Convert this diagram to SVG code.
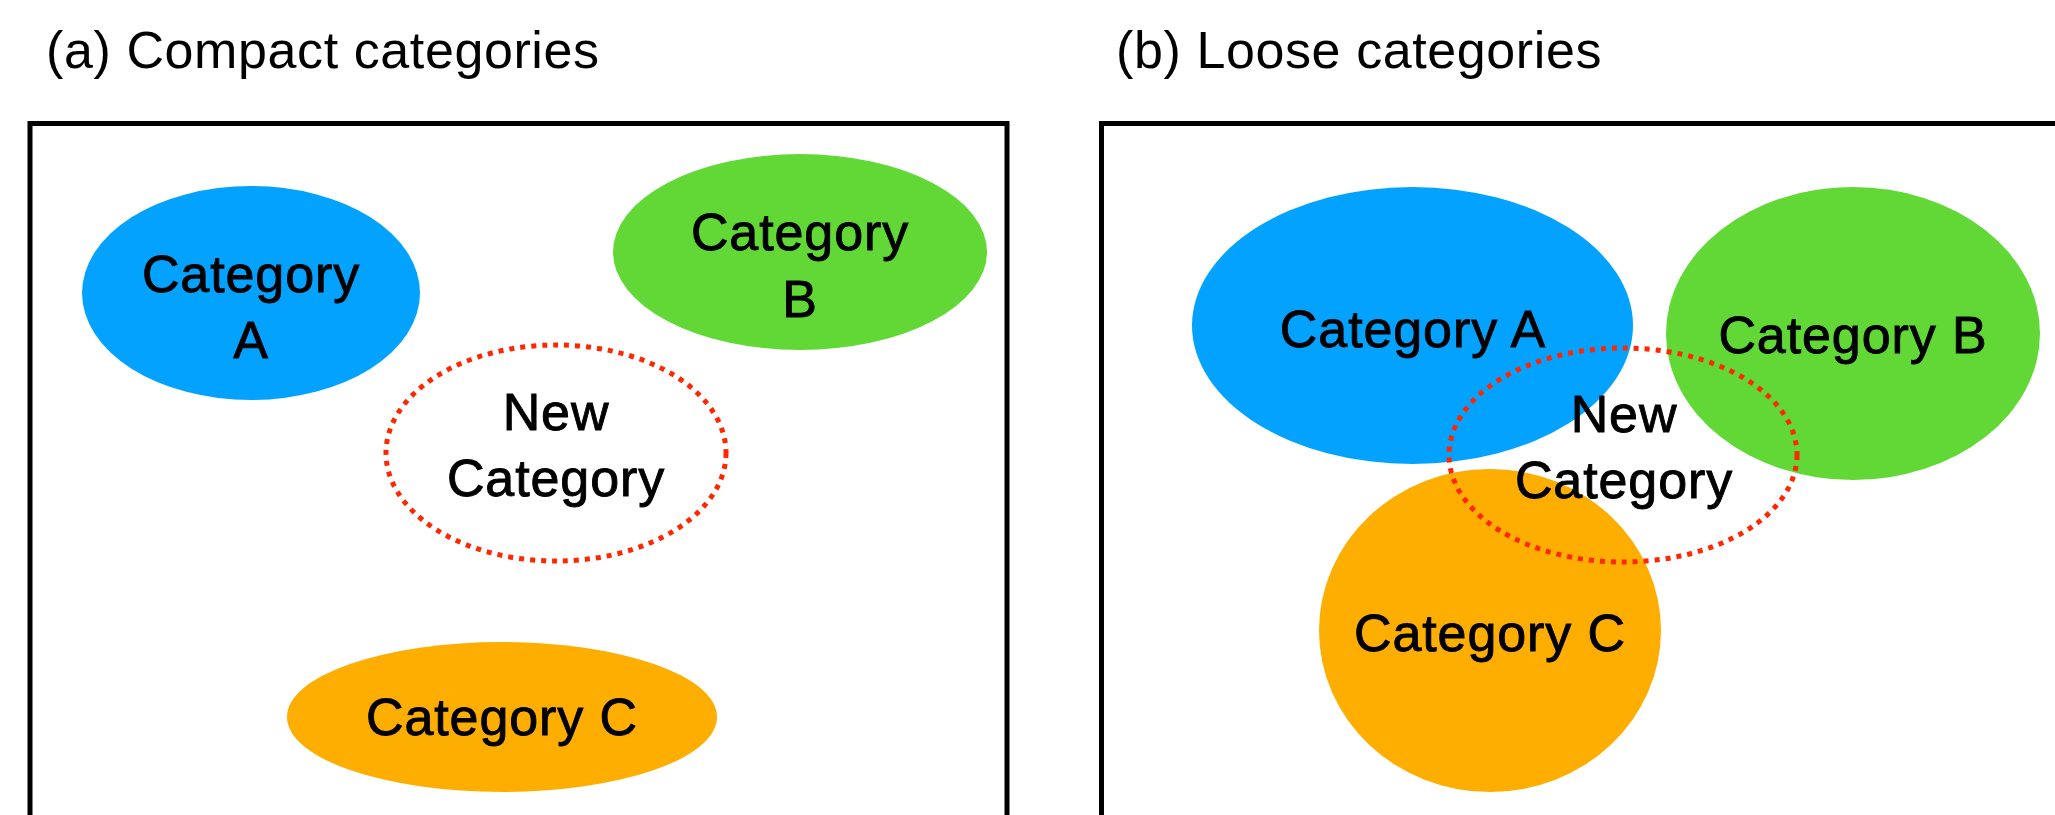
<svg xmlns="http://www.w3.org/2000/svg" width="2055" height="815" viewBox="0 0 2055 815">
<style>
.title{font-family:"Liberation Sans",Arial,sans-serif;font-size:52px;letter-spacing:0.6px;fill:#000}
.lbl{font-family:"Liberation Sans",Arial,sans-serif;font-size:52px;letter-spacing:0.9px;fill:#000;stroke:#000;stroke-width:0.9px;text-anchor:middle}
.frame{fill:none;stroke:#000;stroke-width:5}
.blue{fill:#04A2FF}
.green{fill:#61D836}
.orange{fill:#FEAE00}
.newcat{fill:none;stroke:#FF2600;stroke-width:5;stroke-dasharray:5 6}
</style>
<rect width="2055" height="815" fill="#fff"/>
<g id="panel-a">
  <text class="title" x="46" y="68">(a) Compact categories</text>
  <rect class="frame" x="30" y="123.5" width="977" height="720"/>
  <g id="a-cat-a">
    <ellipse class="blue" cx="251" cy="293" rx="169" ry="107"/>
    <text class="lbl" x="251" y="292">Category</text>
    <text class="lbl" x="251" y="358">A</text>
  </g>
  <g id="a-cat-b">
    <ellipse class="green" cx="800" cy="252" rx="187" ry="98"/>
    <text class="lbl" x="800" y="250">Category</text>
    <text class="lbl" x="800" y="317">B</text>
  </g>
  <g id="a-cat-c">
    <ellipse class="orange" cx="502" cy="717" rx="215" ry="75"/>
    <text class="lbl" x="502" y="735">Category C</text>
  </g>
  <g id="a-new">
    <ellipse class="newcat" cx="556" cy="453" rx="170" ry="108"/>
    <text class="lbl" x="556" y="430">New</text>
    <text class="lbl" x="556" y="496">Category</text>
  </g>
</g>
<g id="panel-b">
  <text class="title" x="1116" y="68">(b) Loose categories</text>
  <rect class="frame" x="1101.5" y="123.5" width="1000" height="720"/>
  <g id="b-cat-a">
    <ellipse class="blue" cx="1412.5" cy="325.5" rx="220.5" ry="138.5"/>
    <text class="lbl" x="1413" y="347">Category A</text>
  </g>
  <g id="b-cat-b">
    <ellipse class="green" cx="1853" cy="333.5" rx="187" ry="146.5"/>
    <text class="lbl" x="1853" y="353">Category B</text>
  </g>
  <g id="b-cat-c">
    <ellipse class="orange" cx="1490" cy="630.5" rx="171" ry="161.5"/>
    <text class="lbl" x="1490" y="651">Category C</text>
  </g>
  <g id="b-new">
    <text class="lbl" x="1624" y="432">New</text>
    <text class="lbl" x="1624" y="498">Category</text>
    <ellipse class="newcat" cx="1623" cy="455" rx="174" ry="107"/>
  </g>
</g>
<g id="connectors"></g>
</svg>
